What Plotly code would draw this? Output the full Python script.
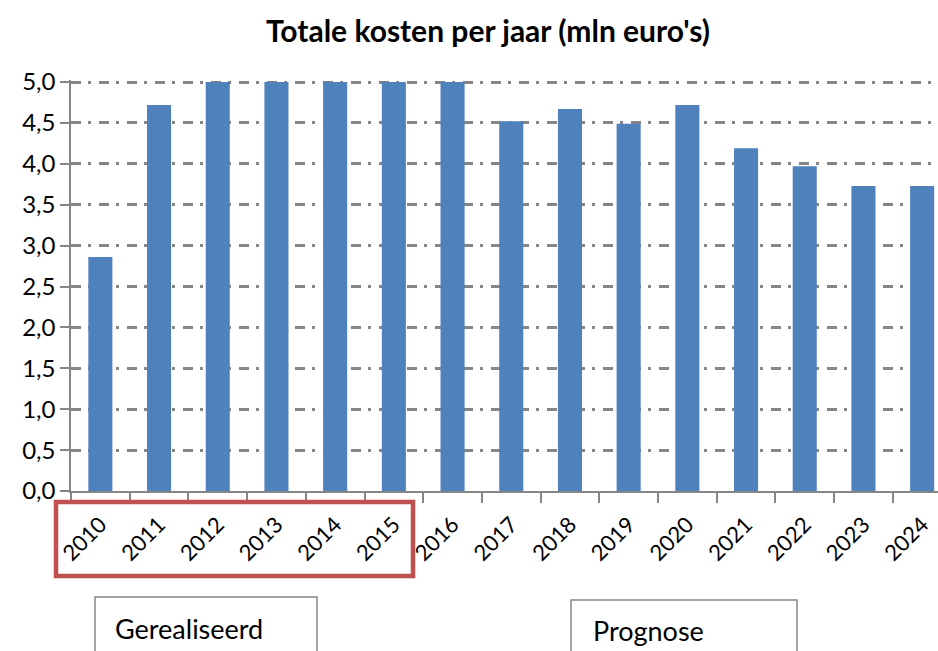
import plotly.graph_objects as go

years = ["2010", "2011", "2012", "2013", "2014", "2015", "2016", "2017",
         "2018", "2019", "2020", "2021", "2022", "2023", "2024"]
kosten = [2.86, 4.72, 5.0, 5.0, 5.0, 5.0, 5.0, 4.52, 4.67, 4.49, 4.72, 4.19, 3.97, 3.73, 3.73]
y_ticks = [0.0, 0.5, 1.0, 1.5, 2.0, 2.5, 3.0, 3.5, 4.0, 4.5, 5.0]
title_text = "Totale kosten per jaar (mln euro's)"
label_real = "Gerealiseerd"
label_prog = "Prognose"

W, H = 938, 651
ML, MR, MT, MB = 71, 0, 80, 160
PW = W - ML - MR
PH = H - MT - MB

def px(x):
    return (x - ML) / PW

def py(y):
    return (H - MB - y) / PH

FONT = "Lato, 'Open Sans', sans-serif"
GRAY = "#868686"

fig = go.Figure()
fig.add_trace(go.Bar(x=years, y=kosten, marker=dict(color="#4F81BD", line=dict(width=0)),
                     width=0.41))

fig.update_layout(
    width=W, height=H,
    margin=dict(l=ML, r=MR, t=MT, b=MB, autoexpand=False),
    paper_bgcolor="white", plot_bgcolor="white",
    separators=",.",
    showlegend=False,
    font=dict(family=FONT, color="black"),
    title=dict(text="<b>" + title_text + "</b>", x=488 / W, xanchor="center",
               y=1 - 31 / H, yanchor="middle", font=dict(size=30, family=FONT, color="black")),
)

fig.update_xaxes(
    type="category", range=[-0.5, 14.27],
    showline=True, linecolor=GRAY, linewidth=2,
    ticks="outside", tickson="boundaries", ticklen=10, tickcolor=GRAY, tickwidth=2,
    tickangle=-45, tickfont=dict(size=22, family=FONT, color="black"),
    ticklabelstandoff=10,
    showgrid=False,
)
fig.update_yaxes(
    range=[0, 5.025], tickvals=y_ticks, tickformat=".1f",
    showline=True, linecolor=GRAY, linewidth=1.5,
    ticks="outside", ticklen=9, tickcolor=GRAY, tickwidth=1.5,
    tickfont=dict(size=24, family=FONT, color="black"),
    showgrid=True, gridcolor=GRAY, gridwidth=2.5,
    griddash="10px,7px,3px,8px",
    zeroline=False,
)

shapes = [
    dict(type="rect", xref="paper", yref="paper",
         x0=px(56), x1=px(413), y0=py(502), y1=py(576),
         line=dict(color="#C0504D", width=4.5), fillcolor="rgba(0,0,0,0)"),
    dict(type="rect", xref="paper", yref="paper",
         x0=px(95), x1=px(317), y0=py(597), y1=py(660),
         line=dict(color=GRAY, width=1.5), fillcolor="white"),
    dict(type="rect", xref="paper", yref="paper",
         x0=px(571), x1=px(797), y0=py(600), y1=py(660),
         line=dict(color=GRAY, width=1.5), fillcolor="white"),
]
fig.update_layout(shapes=shapes)

fig.add_annotation(text=label_real, xref="paper", yref="paper", x=px(113), y=py(628),
                   xanchor="left", yanchor="middle", showarrow=False,
                   font=dict(size=27, family=FONT, color="black"))
fig.add_annotation(text=label_prog, xref="paper", yref="paper", x=px(591), y=py(630),
                   xanchor="left", yanchor="middle", showarrow=False,
                   font=dict(size=27, family=FONT, color="black"))

fig.write_html("out.html", config={"displayModeBar": False},
               post_script="document.body.style.margin='0';document.body.style.overflow='hidden';")
